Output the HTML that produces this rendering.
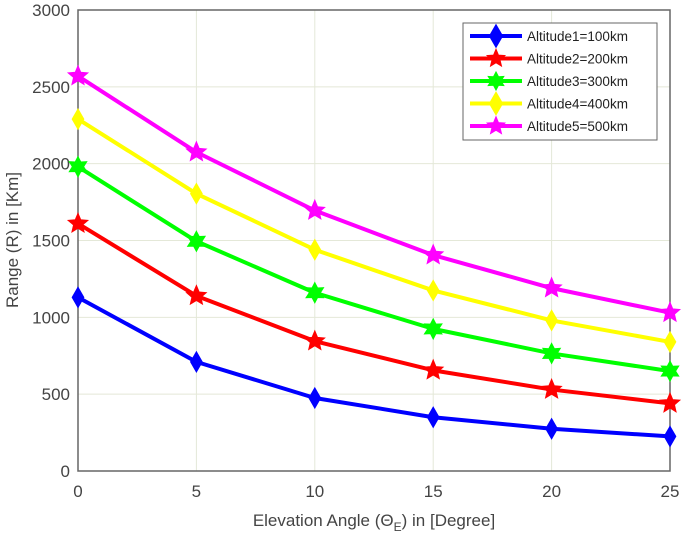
<!DOCTYPE html>
<html><head><meta charset="utf-8"><style>
body{margin:0;background:#fff}
svg{font-family:"Liberation Sans",sans-serif;display:block}
</style></head><body>
<svg id="chart" width="685" height="537" viewBox="0 0 685 537"></svg>
<script>
const categories=[0,5,10,15,20,25];
const s1=[1130,710,475,350,275,225];
const s2=[1610,1140,845,655,530,440];
const s3=[1980,1495,1160,925,765,650];
const s4=[2290,1805,1440,1175,980,840];
const s5=[2570,2075,1695,1405,1190,1030];
const yTicks=[0,500,1000,1500,2000,2500,3000];
const labels=["Altitude1=100km","Altitude2=200km","Altitude3=300km","Altitude4=400km","Altitude5=500km"];
const colors=["#0000ff","#ff0000","#00ff00","#ffff00","#ff00ff"];
const markers=["diamond","star","hex","diamond","star"];
const series=[s1,s2,s3,s4,s5];
const L=78,R=670,T=10,B=471;
const X=v=>L+(v-0)/(25-0)*(R-L);
const Y=v=>B-(v/3000)*(B-T);
const svg=document.getElementById('chart');
const NS="http://www.w3.org/2000/svg";
function mk(t,a,p){const e=document.createElementNS(NS,t);for(const k in a)e.setAttribute(k,a[k]);(p||svg).appendChild(e);return e;}
function markerPath(type,x,y,r){
  if(type==="diamond")return `M${x},${y-r*1.3}L${x+r*0.75},${y}L${x},${y+r*1.3}L${x-r*0.75},${y}Z`;
  let n=type==="star"?5:6,ri=type==="star"?r*0.45:r*0.55,d="";
  for(let i=0;i<2*n;i++){const a=-Math.PI/2+i*Math.PI/n,rr=i%2?ri:r;d+=(i?"L":"M")+(x+rr*Math.cos(a)).toFixed(1)+","+(y+rr*Math.sin(a)).toFixed(1);}
  return d+"Z";
}
categories.forEach(c=>{const g=mk('line',{x1:X(c),x2:X(c),y1:T,y2:B,stroke:'#e4e8d8','stroke-width':1});


const t=mk('text',{x:X(c),y:B+26,'text-anchor':'middle','font-size':17,fill:'#444'});t.textContent=c;

});
yTicks.forEach(v=>{const g=mk('line',{x1:L,x2:R,y1:Y(v),y2:Y(v),stroke:'#e4e8d8','stroke-width':1});


const t=mk('text',{x:L-8,y:Y(v)+6,'text-anchor':'end','font-size':17,fill:'#444'});t.textContent=v;

});
const box=mk('rect',{x:L,y:T,width:R-L,height:B-T,fill:'none',stroke:'#666','stroke-width':1.5});


series.forEach((s,i)=>{
  const g=mk('g',{});
  
  
  mk('polyline',{points:s.map((v,j)=>X(categories[j])+','+Y(v)).join(' '),fill:'none',stroke:colors[i],'stroke-width':4,'stroke-linejoin':'round'},g);
  s.forEach((v,j)=>{const m=mk('path',{d:markerPath(markers[i],X(categories[j]),Y(v),markers[i]==="diamond"?7:9),fill:colors[i],stroke:colors[i],'stroke-width':2},g);
  
  });
});
const lg=mk('g',{});


mk('rect',{x:463,y:23,width:194,height:117,fill:'#fff',stroke:'#666','stroke-width':1},lg);
labels.forEach((l,i)=>{const y=36+i*22.5;
  const e=mk('g',{},lg);
  
  
  mk('line',{x1:470,x2:522,y1:y,y2:y,stroke:colors[i],'stroke-width':4},e);
  mk('path',{d:markerPath(markers[i],496,y,8),fill:colors[i],stroke:colors[i],'stroke-width':2},e);
  const t=mk('text',{x:527,y:y+5,'font-size':13.5,fill:'#222'},e);t.textContent=l;});
const xt=mk('text',{x:374,y:526,'text-anchor':'middle','font-size':17,fill:'#444'});
xt.innerHTML='Elevation Angle (Θ<tspan font-size="12" dy="5">E</tspan><tspan dy="-5">) in [Degree]</tspan>';


const yt=mk('text',{x:18,y:240,'text-anchor':'middle','font-size':17,fill:'#444',transform:'rotate(-90 18 240)'});
yt.textContent='Range (R) in [Km]';


</script>
</body></html>
